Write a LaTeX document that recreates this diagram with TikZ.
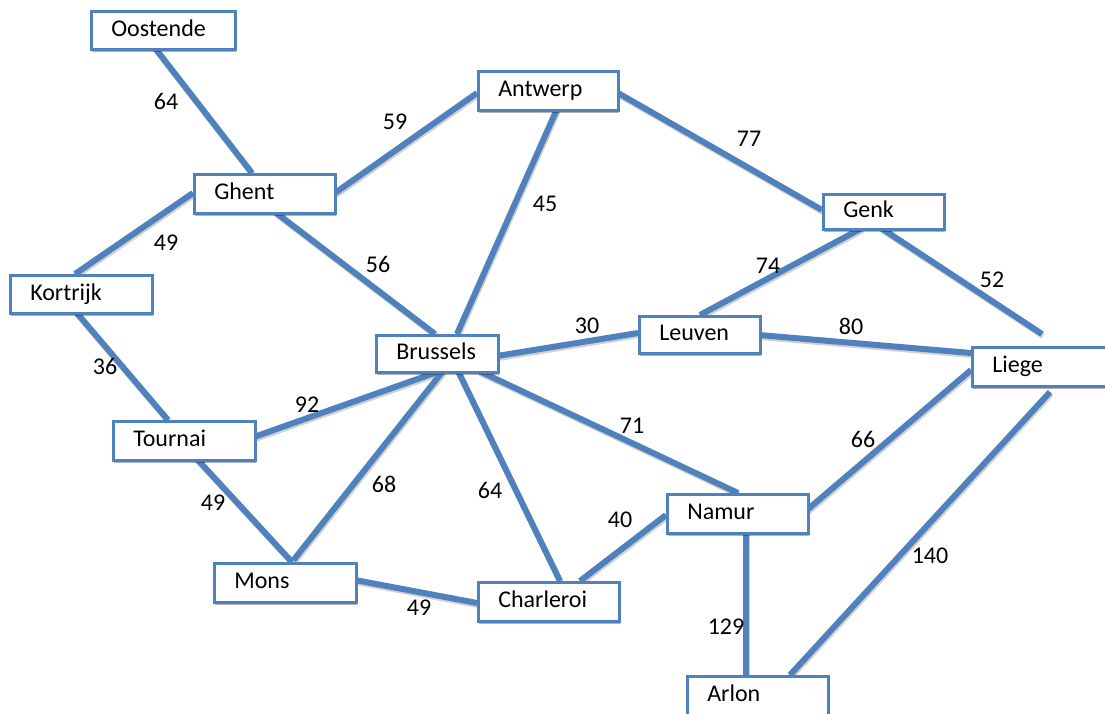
\documentclass[tikz,border=0pt]{standalone}
\usepackage{fontspec}
\setmainfont{Carlito}
\usetikzlibrary{shadows,backgrounds}
\definecolor{ob}{HTML}{4F81BD}
\begin{document}
\begin{tikzpicture}[x=1pt,y=-1pt,
  city/.style={draw=ob, line width=2.5pt, fill=white, anchor=north west,
    inner xsep=20pt, inner ysep=0pt, align=left, text height=17pt, text depth=5pt,
    font=\fontsize{24}{28}\selectfont,
    drop shadow={shadow xshift=1pt, shadow yshift=-3pt, opacity=0.3, fill=black}},
  road/.style={draw=ob, line width=6pt,
    preaction={draw=black!18, line width=6pt, transform canvas={shift={(1pt,-2pt)}}}},
  lbl/.style={font=\fontsize{24}{28}\selectfont, inner sep=0pt}]
\useasboundingbox (0,0) rectangle (1105,713);
% cities
\node[city, text width=104pt, minimum height=38pt] (oost) at (90,10) {Oostende};
\node[city, text width=100pt, minimum height=39pt] (antw) at (477,70) {Antwerp};
\node[city, text width=101pt, minimum height=39pt] (ghent) at (193,173) {Ghent};
\node[city, text width=81pt, minimum height=35pt] (genk) at (822,193) {Genk};
\node[city, text width=102pt, minimum height=38pt] (kort) at (9,274) {Kortrijk};
\node[city, text width=82pt, minimum height=37pt] (brus) at (375,334) {Brussels};
\node[city, text width=81pt, minimum height=37pt] (leuv) at (638,315) {Leuven};
\node[city, text width=101pt, minimum height=39pt] (liege) at (971,346) {Liege};
\node[city, text width=102pt, minimum height=39pt] (tour) at (112,420) {Tournai};
\node[city, text width=101pt, minimum height=39pt] (namur) at (666,493) {Namur};
\node[city, text width=102pt, minimum height=39pt] (mons) at (213,562) {Mons};
\node[city, text width=101pt, minimum height=39pt] (charl) at (477,581) {Charleroi};
\node[city, text width=101pt, minimum height=39pt] (arlon) at (686,675) {Arlon};
% distances
\node[lbl] (l1) at (166,101) {64};
\node[lbl] (l2) at (395,122) {59};
\node[lbl] (l3) at (166,243) {49};
\node[lbl] (l4) at (378,264) {56};
\node[lbl] (l5) at (545,204) {45};
\node[lbl] (l6) at (749,139) {77};
\node[lbl] (l7) at (768,266) {74};
\node[lbl] (l8) at (992,280) {52};
\node[lbl] (l9) at (105,366) {36};
\node[lbl] (l10) at (587,326) {30};
\node[lbl] (l11) at (851,326) {80};
\node[lbl] (l12) at (307,405) {92};
\node[lbl] (l13) at (384,484) {68};
\node[lbl] (l14) at (490,490) {64};
\node[lbl] (l15) at (632,426) {71};
\node[lbl] (l16) at (213,503) {49};
\node[lbl] (l17) at (863,439) {66};
\node[lbl] (l18) at (620,520) {40};
\node[lbl] (l19) at (419,608) {49};
\node[lbl] (l20) at (726,627) {129};
\node[lbl] (l21) at (930,556) {140};
% roads
\begin{pgfonlayer}{background}
\fill[white] (0,0) rectangle (1105,713);
\draw[road] ([shift={(65,38)}]oost.north west) -- ([shift={(59,0)}]ghent.north west);
\draw[road] ([shift={(142,20)}]ghent.north west) -- ([shift={(0,23)}]antw.north west);
\draw[road] ([shift={(0,20)}]ghent.north west) -- ([shift={(66,0)}]kort.north west);
\draw[road] ([shift={(82,39)}]ghent.north west) -- ([shift={(60,0)}]brus.north west);
\draw[road] ([shift={(80,39)}]antw.north west) -- ([shift={(82,0)}]brus.north west);
\draw[road] ([shift={(141,23)}]antw.north west) -- ([shift={(0,17)}]genk.north west);
\draw[road] ([shift={(40,35)}]genk.north west) -- ([shift={(62,0)}]leuv.north west);
\draw[road] ([shift={(59,35)}]genk.north west) -- ([shift={(71,-12)}]liege.north west);
\draw[road] ([shift={(67,38)}]kort.north west) -- ([shift={(56,0)}]tour.north west);
\draw[road] ([shift={(122,22)}]brus.north west) -- ([shift={(0,18)}]leuv.north west);
\draw[road] ([shift={(121,20)}]leuv.north west) -- ([shift={(0,7)}]liege.north west);
\draw[road] ([shift={(142,17)}]tour.north west) -- ([shift={(65,37)}]brus.north west);
\draw[road] ([shift={(68,37)}]brus.north west) -- ([shift={(79,0)}]mons.north west);
\draw[road] ([shift={(83,37)}]brus.north west) -- ([shift={(83,0)}]charl.north west);
\draw[road] ([shift={(104,37)}]brus.north west) -- ([shift={(72,0)}]namur.north west);
\draw[road] ([shift={(85,39)}]tour.north west) -- ([shift={(79,0)}]mons.north west);
\draw[road] ([shift={(141,17)}]namur.north west) -- ([shift={(0,24)}]liege.north west);
\draw[road] ([shift={(0,22)}]namur.north west) -- ([shift={(103,0)}]charl.north west);
\draw[road] ([shift={(142,18)}]mons.north west) -- ([shift={(0,22)}]charl.north west);
\draw[road] ([shift={(80,39)}]namur.north west) -- ([shift={(60,0)}]arlon.north west);
\draw[road] ([shift={(79,46)}]liege.north west) -- ([shift={(104,0)}]arlon.north west);
\end{pgfonlayer}
\end{tikzpicture}
\end{document}
